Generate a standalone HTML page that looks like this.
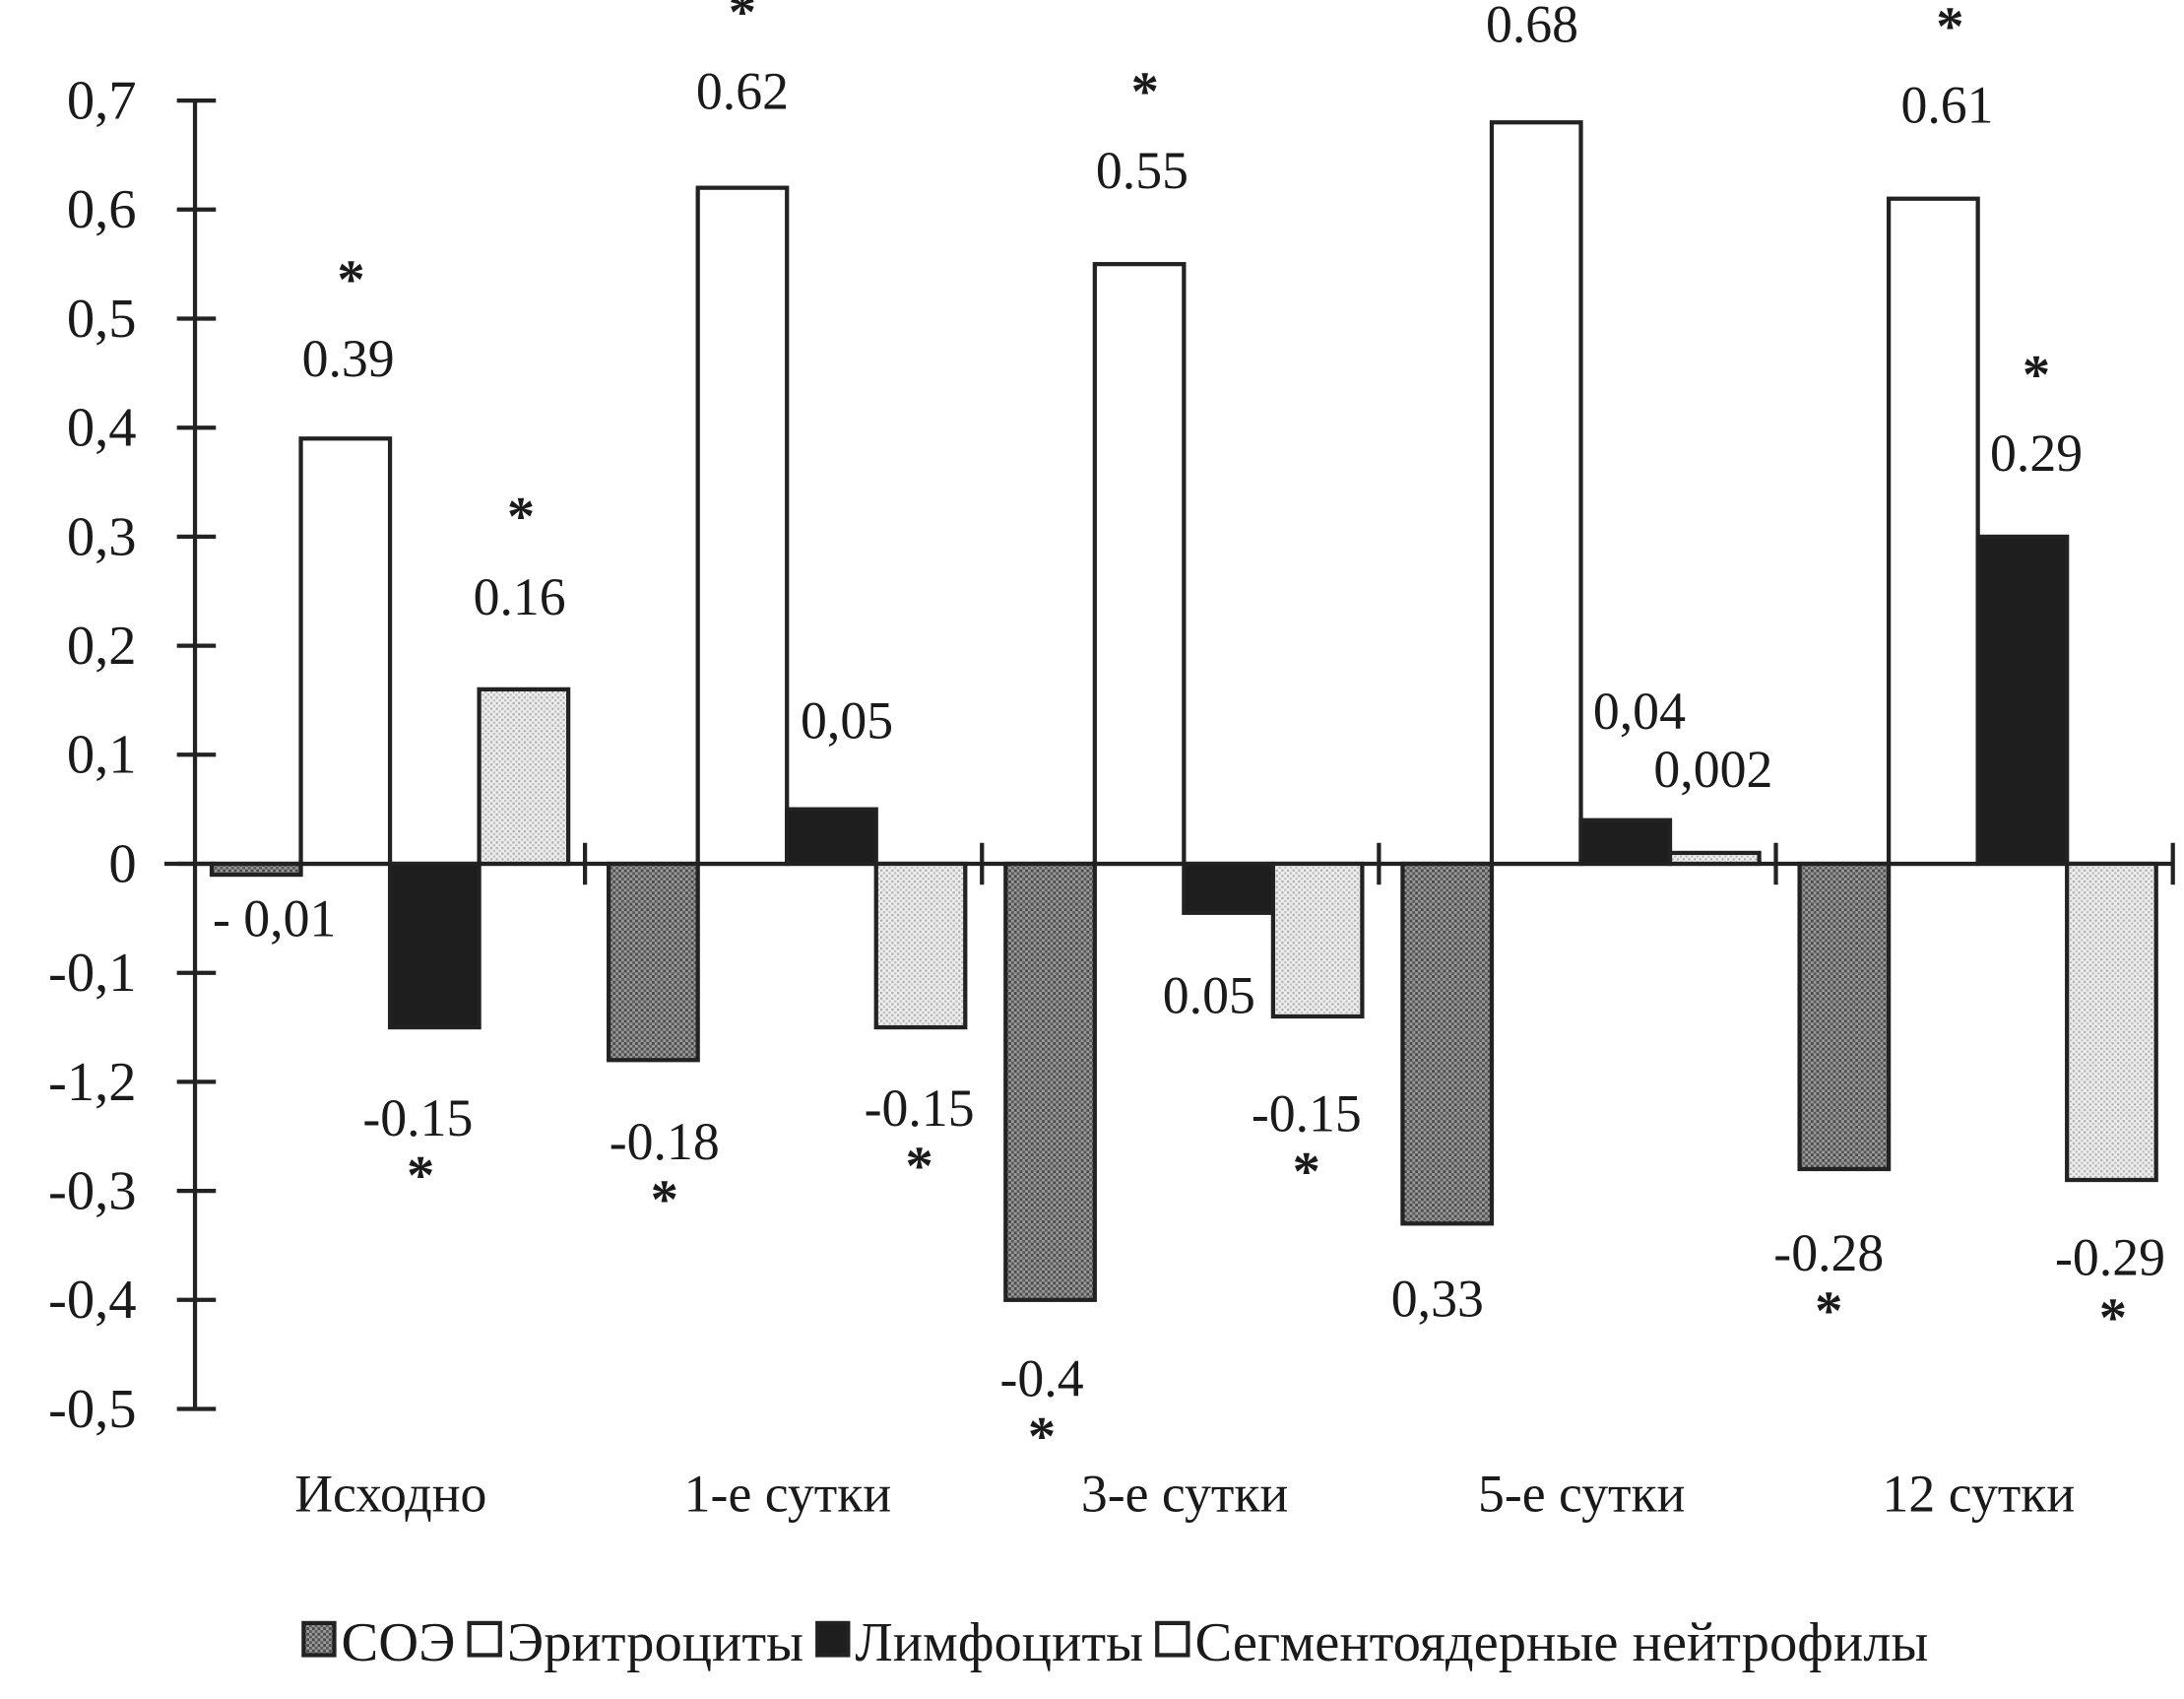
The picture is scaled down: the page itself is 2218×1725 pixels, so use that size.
<!DOCTYPE html>
<html><head><meta charset="utf-8"><style>
html,body{margin:0;padding:0;background:#fff}
svg{display:block}
text{font-family:"Liberation Serif","DejaVu Serif",serif;fill:#1a1a1a}
</style></head><body>
<svg id="chart" width="2218" height="1725" viewBox="0 0 1568 1219.5" preserveAspectRatio="none" xmlns="http://www.w3.org/2000/svg">
<defs>
<pattern id="pSoe" width="4" height="4" patternUnits="userSpaceOnUse"><rect width="4" height="4" fill="#9a9a9a"/><rect width="2" height="2" fill="#4a4a4a"/><rect x="2" y="2" width="2" height="2" fill="#5a5a5a"/></pattern>
<pattern id="pSeg" width="4" height="4" patternUnits="userSpaceOnUse"><rect width="4" height="4" fill="#ececec"/><rect width="1.5" height="1.5" fill="#aaa"/><rect x="2" y="2" width="1.5" height="1.5" fill="#bbb"/></pattern>
</defs>
<g id="axes"></g>
<g id="bars"></g>
<g id="labels"></g>
<g id="legend"></g>
</svg>
<script>
const categories = ["Исходно","1-е сутки","3-е сутки","5-е сутки","12 сутки"];
const seriesNames = ["СОЭ","Эритроциты","Лимфоциты","Сегментоядерные нейтрофилы"];
const soe = [-0.01,-0.18,-0.4,-0.33,-0.28];
const eryth = [0.39,0.62,0.55,0.68,0.61];
const lymph = [-0.15,0.05,-0.045,0.04,0.30];
const segm = [0.16,-0.15,-0.14,0.01,-0.29];
const yTicks = [0.7,0.6,0.5,0.4,0.3,0.2,0.1,0,-0.1,-0.2,-0.3,-0.4,-0.5];
const yTickLabels = ["0,7","0,6","0,5","0,4","0,3","0,2","0,1","0","-0,1","-1,2","-0,3","-0,4","-0,5"];
// annotations: [text, x, y, isStar]
const annotations = [
["*",252,214,1],["0.39",250,270,0],["*",374,384,1],["0.16",373,441,0],["- 0,01",197,672,0],["-0.15",300,815,0],["*",302,857,1],
["*",533,22,1],["0.62",533,78,0],["0,05",608,530,0],["-0.18",477,832,0],["*",477,874,1],["-0.15",660,808,0],["*",660,850,1],
["*",822,79,1],["0.55",820,135,0],["0.05",868,727,0],["-0.15",938,812,0],["*",938,854,1],["-0.4",748,1002,0],["*",748,1044,1],
["0.68",1100,30,0],["0,04",1177,523,0],["0,002",1230,565,0],["0,33",1032,945,0],
["*",1400,32,1],["0.61",1398,88,0],["*",1462,282,1],["0.29",1462,338,0],["-0.28",1313,912,0],["*",1313,954,1],["-0.29",1515,915,0],["*",1517,959,1]
];
const NS="http://www.w3.org/2000/svg";
const X0=140, GW=285, BW=64, Y0=620, PER=782.6;
const y = v => Y0 - v*PER;
const gx = i => X0 + i*GW;
function mk(tag, attrs, parent){const e=document.createElementNS(NS,tag);for(const k in attrs)e.setAttribute(k,attrs[k]);parent.appendChild(e);return e;}
const axes=document.getElementById('axes'), bars=document.getElementById('bars'), labels=document.getElementById('labels'), legend=document.getElementById('legend');
let e=mk('line',{x1:X0,y1:y(0.7),x2:X0,y2:y(-0.5),stroke:'#222','stroke-width':3},axes);


e=mk('line',{x1:118,y1:Y0,x2:1560,y2:Y0,stroke:'#222','stroke-width':3},axes);


yTicks.forEach((t,i)=>{
  let l=mk('line',{x1:X0-13,y1:y(t),x2:X0+15,y2:y(t),stroke:'#222','stroke-width':3},axes);
  
  
  let tx=mk('text',{x:98,y:y(t)+13,'text-anchor':'end','font-size':40},axes);
  tx.textContent=yTickLabels[i];
  
  
});
for(let i=1;i<=categories.length;i++){
  let l=mk('line',{x1:gx(i)-5,y1:Y0-15,x2:gx(i)-5,y2:Y0+15,stroke:'#222','stroke-width':3},axes);
  
  
}
categories.forEach((c,i)=>{
  let t=mk('text',{x:gx(i)+GW/2-2,y:1085,'text-anchor':'middle','font-size':38},axes);
  t.textContent=c;
  
  
});
const series=[soe,eryth,lymph,segm];
const fills=['url(#pSoe)','#fff','#1e1e1e','url(#pSeg)'];
const names=['bar-soe','bar-erythrocytes','bar-lymphocytes','bar-neutrophils'];
series.forEach((arr,s)=>{
  arr.forEach((v,i)=>{
    const x=gx(i)+12+s*BW;
    const top=Math.min(y(v),Y0), h=Math.max(Math.abs(y(v)-Y0),2);
    let r=mk('rect',{x:x,y:top,width:BW,height:h,fill:fills[s],stroke:'#222','stroke-width':3},bars);
    
    
  });
});
annotations.forEach(a=>{
  let t=mk('text',{x:a[1],y:a[2],'text-anchor':'middle','font-size':a[3]?40:38,'font-weight':a[3]?'bold':'normal'},labels);
  t.textContent=a[0];
  
  
});
const legFills=['url(#pSoe)','#fff','#1e1e1e','#fff'];
let lx=218;
seriesNames.forEach((n,i)=>{
  let r=mk('rect',{x:lx,y:1165,width:22,height:23,fill:legFills[i],stroke:'#222','stroke-width':3},legend);
  
  
  let t=mk('text',{x:lx+27,y:1192,'font-size':40},legend);
  t.textContent=n;
  
  
  lx += 27 + t.getComputedTextLength() + 10;
});
</script>
</body></html>
